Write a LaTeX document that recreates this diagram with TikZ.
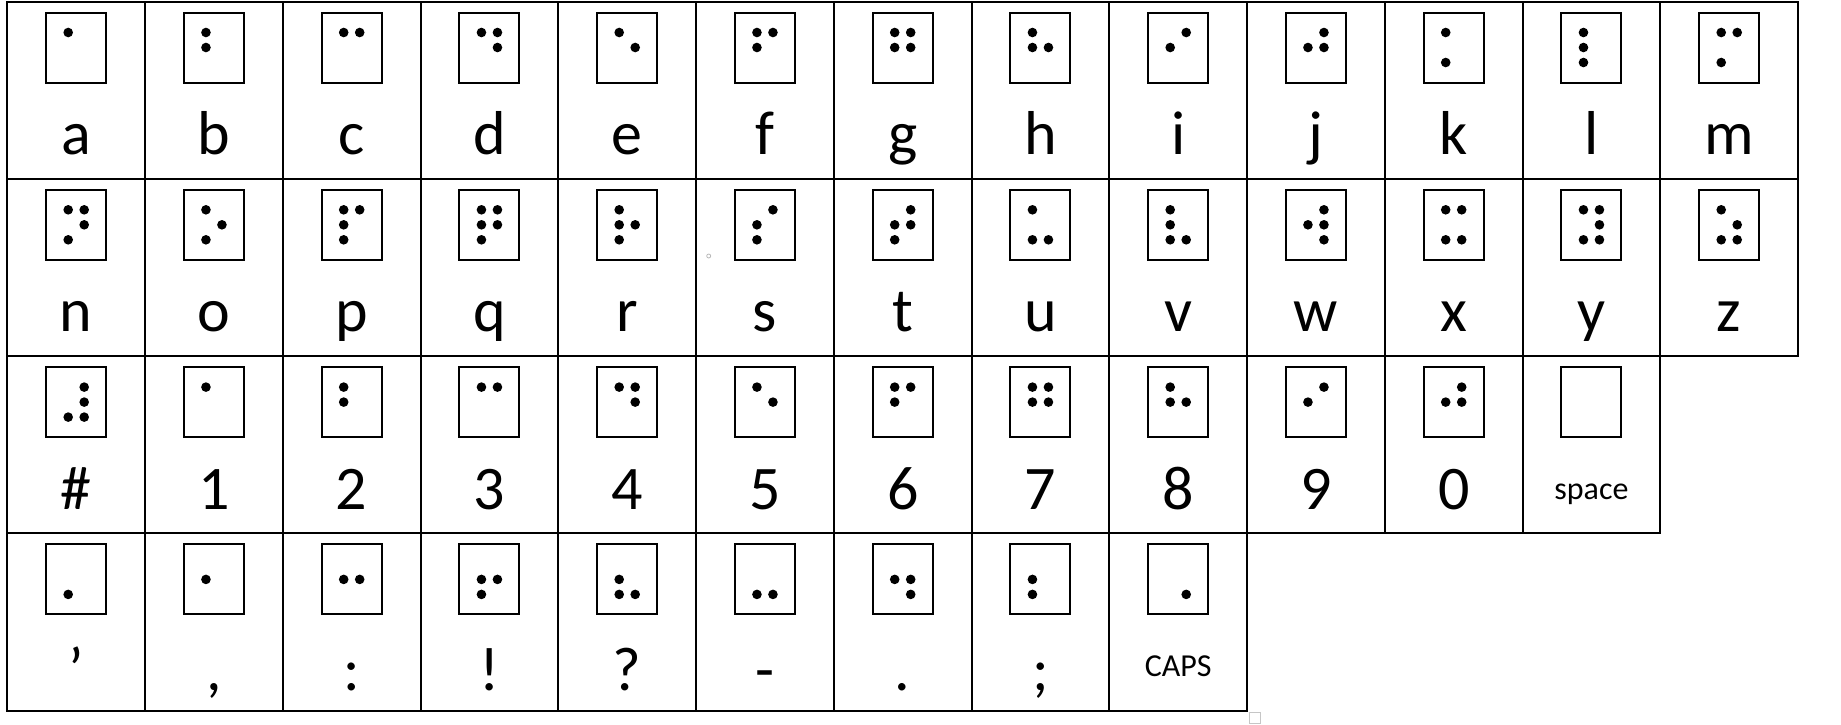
\documentclass[tikz,border=0pt]{standalone}
\usepackage{fontspec}
\setmainfont{Carlito}
\usepackage{tikz}
\usetikzlibrary{positioning}
% dots of one box: 1-3 down the left, 4-6 down the right
\newcommand*{\brl}[2]{%
  \if\relax\detokenize{#2}\relax\else
  \foreach \d in {#2}{%
    \pgfmathsetmacro{\dotx}{ifthenelse(\d>3,4,-4)}%
    \pgfmathsetmacro{\doty}{7.5*(1-mod(\d-1,3))}%
    \fill ([shift={(\dotx pt,\doty pt)}]#1.center) circle (2.4pt);
  }\fi}
% one table cell: [label style]{name}{column}{row}{label}{dots}
\newcommand*{\bcell}[6][glyph]{%
  \node[cell] (#2) at ({76.2+137.75*#3},{90.15+177.3*#4}) {};
  \node[dotbox, below=5.5pt of #2.north] (#2box) {};
  \node[#1] (#2lab) at (#2.north) {#5};
  \brl{#2box}{#6}}

\begin{document}
\begin{tikzpicture}[x=0.5pt, y=-0.5pt,
    cell/.style={draw, line width=1pt, minimum width=68.875pt, minimum height=88.65pt, inner sep=0pt, outer sep=0pt},
    dotbox/.style={draw, line width=1pt, minimum width=30pt, minimum height=35pt, inner sep=0pt, outer sep=0pt},
    glyph/.style={anchor=base, yshift=-76.5pt, inner sep=0pt, font=\fontsize{31}{31}\selectfont},
    lowglyph/.style={glyph, yshift=-2pt},
    smalllab/.style={anchor=base, yshift=-71.5pt, inner sep=0pt, font=\fontsize{16}{16}\selectfont}]
    \useasboundingbox (0,0) rectangle (1841,724);
    % letters
    \bcell{a}{0}{0}{a}{1}
    \bcell{b}{1}{0}{b}{1,2}
    \bcell{c}{2}{0}{c}{1,4}
    \bcell{d}{3}{0}{d}{1,4,5}
    \bcell{e}{4}{0}{e}{1,5}
    \bcell{f}{5}{0}{f}{1,2,4}
    \bcell{g}{6}{0}{g}{1,2,4,5}
    \bcell{h}{7}{0}{h}{1,2,5}
    \bcell{i}{8}{0}{i}{2,4}
    \bcell{j}{9}{0}{j}{2,4,5}
    \bcell{k}{10}{0}{k}{1,3}
    \bcell{l}{11}{0}{l}{1,2,3}
    \bcell{m}{12}{0}{m}{1,3,4}
    \bcell{n}{0}{1}{n}{1,3,4,5}
    \bcell{o}{1}{1}{o}{1,3,5}
    \bcell{p}{2}{1}{p}{1,2,3,4}
    \bcell{q}{3}{1}{q}{1,2,3,4,5}
    \bcell{r}{4}{1}{r}{1,2,3,5}
    \bcell{s}{5}{1}{s}{2,3,4}
    \bcell{t}{6}{1}{t}{2,3,4,5}
    \bcell{u}{7}{1}{u}{1,3,6}
    \bcell{v}{8}{1}{v}{1,2,3,6}
    \bcell{w}{9}{1}{w}{2,4,5,6}
    \bcell{x}{10}{1}{x}{1,3,4,6}
    \bcell{y}{11}{1}{y}{1,3,4,5,6}
    \bcell{z}{12}{1}{z}{1,3,5,6}
    % numbers
    \bcell{hash}{0}{2}{\#}{3,4,5,6}
    \bcell{num1}{1}{2}{1}{1}
    \bcell{num2}{2}{2}{2}{1,2}
    \bcell{num3}{3}{2}{3}{1,4}
    \bcell{num4}{4}{2}{4}{1,4,5}
    \bcell{num5}{5}{2}{5}{1,5}
    \bcell{num6}{6}{2}{6}{1,2,4}
    \bcell{num7}{7}{2}{7}{1,2,4,5}
    \bcell{num8}{8}{2}{8}{1,2,5}
    \bcell{num9}{9}{2}{9}{2,4}
    \bcell{num0}{10}{2}{0}{2,4,5}
    \bcell[smalllab]{space}{11}{2}{space}{}
    % punctuation
    \bcell[lowglyph]{apos}{0}{3}{'}{3}
    \bcell[lowglyph]{comma}{1}{3}{,}{2}
    \bcell[lowglyph]{colon}{2}{3}{:}{2,5}
    \bcell[lowglyph]{excl}{3}{3}{!}{2,3,5}
    \bcell[lowglyph]{quest}{4}{3}{?}{2,3,6}
    \bcell[lowglyph]{dash}{5}{3}{-}{3,6}
    \bcell[lowglyph]{period}{6}{3}{.}{2,5,6}
    \bcell[lowglyph]{semi}{7}{3}{;}{2,3}
    \bcell[smalllab]{caps}{8}{3}{CAPS}{6}
    % marks left in the page
    \draw[gray!45, line width=0.4pt] (1249.5,712.5) rectangle (1260.5,723);
    \draw[gray!55, line width=0.4pt] (708.7,256) circle (1pt);
\end{tikzpicture}
\end{document}
